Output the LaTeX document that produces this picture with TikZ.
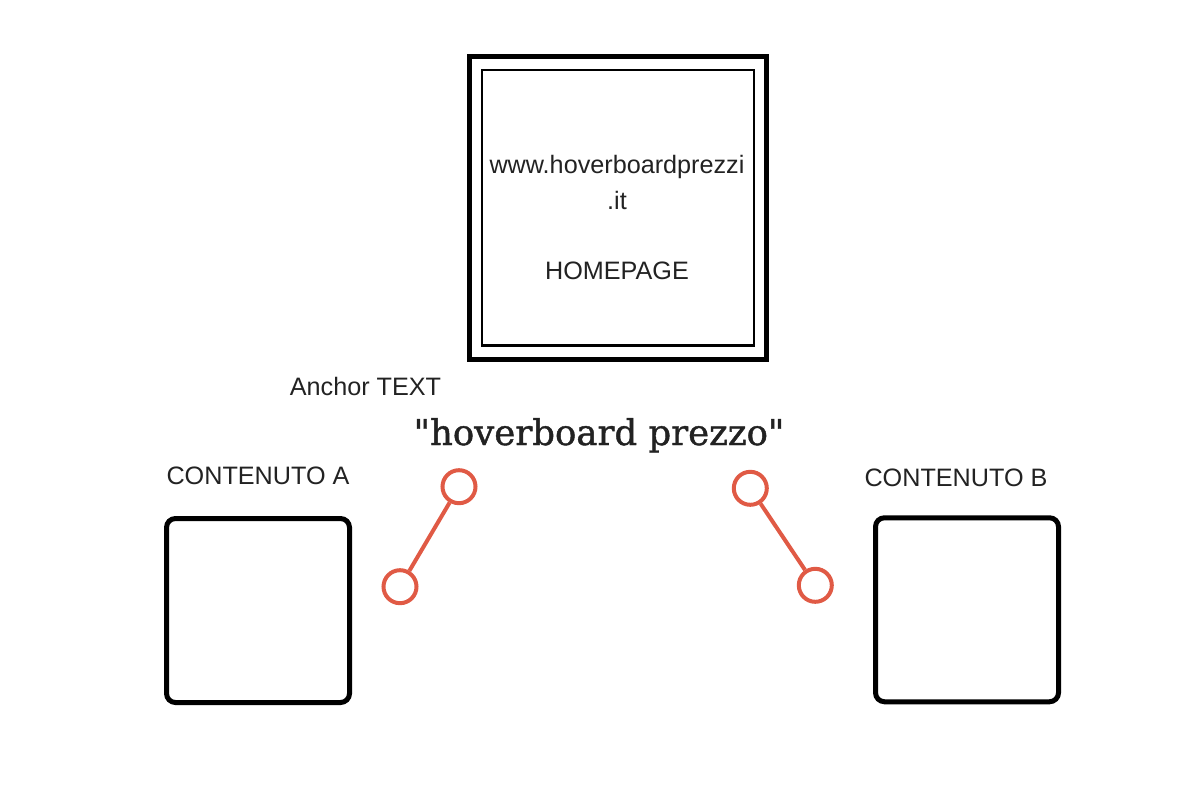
\documentclass[tikz,border=0pt]{standalone}
\usepackage{fontspec}
\setmainfont{Liberation Sans}
\newfontfamily\quotefont[FakeBold=1.2]{DejaVu Serif}
\begin{document}
\begin{tikzpicture}[x=1pt,y=-1pt,
  txt/.style={inner sep=0pt,anchor=base,text=textgray,font=\fontsize{25.2}{35}\selectfont},
  pagebox/.style={draw=black,line width=5pt,rounded corners=9pt,minimum width=183pt,minimum height=184pt,inner sep=0pt},
  linkdot/.style={circle,draw=linkred,line width=4pt,minimum size=33pt,inner sep=0pt},
  linkline/.style={draw=linkred,line width=4pt}]
\definecolor{textgray}{HTML}{222222}
\definecolor{linkred}{HTML}{E05A45}
\useasboundingbox (0,0) rectangle (1200,800);
% homepage box
\node[draw=black,line width=5pt,minimum width=297pt,minimum height=302.5pt,inner sep=0pt] (home) at (618,207.75) {};
\node[draw=black,line width=2.5pt,minimum width=272pt,minimum height=275.8pt,inner sep=0pt] (homein) at (home.center) {};
\node[txt] (url) at (617,173) {www.hoverboardprezzi};
\node[txt] (dotit) at (617,209) {.it};
\node[txt] (hp) at (617,279) {HOMEPAGE};
% labels
\node[txt] (anchor) at (365.5,395) {Anchor TEXT};
\node[txt,font=\quotefont\fontsize{35.5}{40}\selectfont] (kw) at (599,445) {"hoverboard prezzo"};
\node[txt] (labA) at (258,484) {CONTENUTO A};
\node[txt] (labB) at (956,486) {CONTENUTO B};
% content boxes
\node[pagebox] (boxA) at (258,610.5) {};
\node[pagebox] (boxB) at (967,609.75) {};
% link symbols
\node[linkdot] (la1) at (459,486.7) {};
\node[linkdot] (la2) at (400,586.7) {};
\node[linkdot] (lb1) at (750.3,488.3) {};
\node[linkdot] (lb2) at (815.3,585.3) {};
\draw[linkline] (la1) -- (la2);
\draw[linkline] (lb1) -- (lb2);
\end{tikzpicture}
\end{document}
